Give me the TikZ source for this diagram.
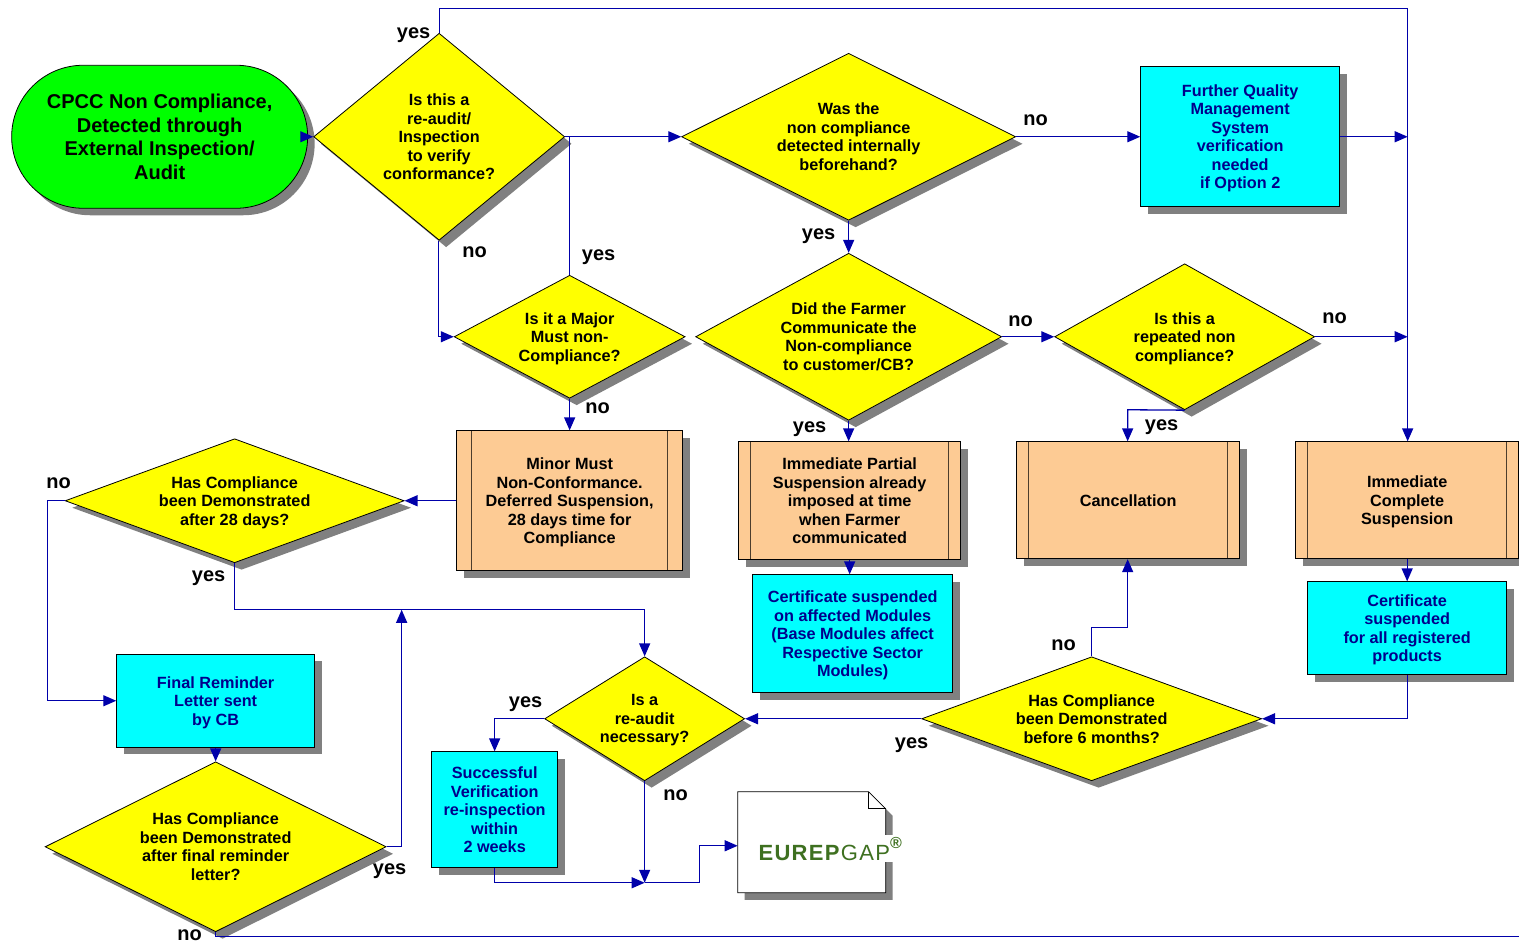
\documentclass[tikz,border=0pt]{standalone}
\usepackage{fontspec}
\setmainfont{Liberation Sans}
\newfontfamily\logofont[LetterSpace=6]{Liberation Sans}
\usetikzlibrary{shapes.geometric,shapes.misc,shadows,arrows.meta}
\definecolor{flowblue}{RGB}{0,0,170}
\definecolor{textnavy}{RGB}{0,0,139}
\definecolor{peach}{RGB}{253,203,148}
\definecolor{shadowgray}{RGB}{128,128,128}
\definecolor{logogreen}{RGB}{62,112,32}
\definecolor{startgreen}{RGB}{0,255,0}
\definecolor{questyellow}{RGB}{255,255,0}
\definecolor{infocyan}{RGB}{0,255,255}
\tikzset{
  grayshadow/.style={drop shadow={shadow xshift=3.5pt,shadow yshift=-3.5pt,fill=shadowgray,opacity=1}},
  nodetext/.style={align=center,inner sep=0pt,text depth=0pt,font=\bfseries\fontsize{8.12}{9.25}\selectfont},
  startbox/.style={rounded rectangle,draw=black,fill=startgreen,grayshadow,align=center,inner sep=0pt,
    font=\bfseries\fontsize{10}{11.7}\selectfont,minimum width=148pt,minimum height=71.5pt},
  quest/.code 2 args={\pgfmathsetmacro\questaspect{#1/#2}
    \tikzset{diamond,draw=black,fill=questyellow,grayshadow,nodetext,aspect=\questaspect,
      minimum width=0.5pt*#1,minimum height=0.5pt*#2}},
  infobox/.style 2 args={rectangle,draw=black,fill=infocyan,grayshadow,nodetext,text=textnavy,
    minimum width=0.5pt*#1,minimum height=0.5pt*#2},
  actionbox/.style n args={3}{rectangle,draw=black,fill=peach,grayshadow,nodetext,
    minimum width=0.5pt*#1,minimum height=0.5pt*#2,
    path picture={
      \draw[black!70!peach] ([xshift=0.5pt*#3]path picture bounding box.south west) -- ([xshift=0.5pt*#3]path picture bounding box.north west);
      \draw[black!70!peach] ([xshift=-0.5pt*#3]path picture bounding box.south east) -- ([xshift=-0.5pt*#3]path picture bounding box.north east);
    }},
  answer/.style={inner sep=0pt,font=\bfseries\fontsize{10}{12}\selectfont},
  flow/.style={draw=flowblue,line width=0.65pt,-{Triangle[length=6.5pt,width=5.5pt]}},
  plainflow/.style={draw=flowblue,line width=0.65pt},
}
\begin{document}
\begin{tikzpicture}[x=0.5pt,y=-0.5pt]
    \useasboundingbox (0.35,0.25) rectangle (1519.35,944.25);

    % Start
    \node[startbox] (start) at (160,137) {CPCC Non Compliance,\\Detected through\\External Inspection/\\Audit};

    % Questions
    \node[quest={251}{207}] (reaudit) at (439.5,137) {Is this a\\re-audit/\\Inspection\\to verify\\conformance?};
    \node[quest={334}{167}] (internal) at (849,137) {Was the\\non compliance\\detected internally\\beforehand?};
    \node[quest={231}{123}] (major) at (570,337) {Is it a Major\\Must non-\\Compliance?};
    \node[quest={306}{167}] (farmer) at (849,337) {Did the Farmer\\Communicate the\\Non-compliance\\to customer/CB?};
    \node[quest={260}{146}] (repeated) at (1185,337) {Is this a\\repeated non\\compliance?};
    \node[quest={339}{124}] (days) at (235,501) {Has Compliance\\been Demonstrated\\after 28 days?};
    \node[quest={341}{170}] (reminder) at (216,847) {Has Compliance\\been Demonstrated\\after final reminder\\letter?};
    \node[quest={200}{124}] (necessary) at (645,719) {Is a\\re-audit\\necessary?};
    \node[quest={340}{124}] (months) at (1092,719) {Has Compliance\\been Demonstrated\\before 6 months?};

    % Blue boxes
    \node[infobox={199}{140}] (quality) at (1240.5,137) {Further Quality\\Management\\System\\verification\\needed\\if Option 2};
    \node[infobox={200}{118}] (affected) at (853,634) {Certificate suspended\\on affected Modules\\(Base Modules affect\\Respective Sector\\Modules)};
    \node[infobox={199}{93}] (registered) at (1407.5,628.5) {Certificate\\suspended\\for all registered\\products};
    \node[infobox={198}{93}] (letter) at (216,701) {Final Reminder\\Letter sent\\by CB};
    \node[infobox={126}{116}] (success) at (495,810) {Successful\\Verification\\re-inspection\\within\\2 weeks};

    % Orange boxes
    \node[actionbox={226}{140}{15}] (minor) at (570,501) {Minor Must\\Non-Conformance.\\Deferred Suspension,\\28 days time for\\Compliance};
    \node[actionbox={222}{118}{12}] (partial) at (850,501) {Immediate Partial\\Suspension already\\imposed at time\\when Farmer\\communicated};
    \node[actionbox={223}{117}{12}] (cancel) at (1128.5,500.5) {Cancellation};
    \node[actionbox={223}{117}{12}] (complete) at (1407.5,500.5) {Immediate\\Complete\\Suspension};

    % Document
    \draw[fill=white,grayshadow] (738,792) -- (869,792) -- (886,809) -- (886,893) -- (738,893) -- cycle;
    \draw (869,792) -- (869,809) -- (886,809);
    \node[fill=white,inner sep=1pt,text=logogreen,font=\fontsize{11}{12}\logofont] (logo) at (831,849) {\textbf{EUREP}GAP\raisebox{1ex}{\fontsize{8}{8}\selectfont\textbf{®}}};
    \coordinate (docin) at (738,846);

    % Helper points
    \coordinate (topright) at (1408,9);
    \coordinate (qualitymeet) at (1408,137);
    \coordinate (repeatedmeet) at (1408,337);
    \coordinate (majormeet) at (570,137);
    \coordinate (reauditmeet) at (439,337);
    \coordinate (daysleft) at (48,501);
    \coordinate (daysline) at (235,610);
    \coordinate (auditline) at (645,610);
    \coordinate (reminderup) at (402,847);
    \coordinate (reminderend) at (402,610);
    \coordinate (bottomright) at (1519,937);
    \coordinate (bottomleft) at (216,937);
    \coordinate (monthsup) at (1092,628);
    \coordinate (cancelup) at (1128,628);
    \coordinate (registeredturn) at (1408,719);
    \coordinate (repeatedturn) at (1128,410);
    \coordinate (necessaryturn) at (495,719);
    \coordinate (endmeet) at (645,883);
    \coordinate (successturn) at (495,883);
    \coordinate (docturn) at (700,883);
    \coordinate (docup) at (700,846);

    % Connectors
    \draw[flow] (start.east) -- (reaudit.west);
    \draw[flow] (reaudit.north) -- (reaudit.north |- topright) -- (topright) -- (complete.north -| topright);
    \draw[flow] (reaudit.south -| reauditmeet) -- (reauditmeet) -- (major.west);
    \draw[plainflow] (reaudit.east) -- (majormeet);
    \draw[flow] (major.north) -- (majormeet) -- (internal.west);
    \draw[flow] (internal.east) -- (quality.west);
    \draw[flow] (quality.east) -- (qualitymeet);
    \draw[flow] (internal.south) -- (farmer.north);
    \draw[flow] (major.south) -- (minor.north);
    \draw[flow] (farmer.east) -- (repeated.west);
    \draw[flow] (repeated.east) -- (repeatedmeet);
    \draw[flow] (farmer.south) -- (partial.north -| farmer.south);
    \draw[flow] (repeated.south) -- (repeatedturn) -- (cancel.north -| repeatedturn);
    \draw[flow] (partial.south) -- (affected.north -| partial.south);
    \draw[flow] (complete.south -| registered.north) -- (registered.north);
    \draw[flow] (registered.south -| registeredturn) -- (registeredturn) -- (months.east);
    \draw[flow] (months.west) -- (necessary.east);
    \draw[flow] (months.north) -- (monthsup) -- (cancelup) -- (cancel.south -| cancelup);
    \draw[flow] (minor.west) -- (days.east);
    \draw[flow] (days.west) -- (daysleft) -- (daysleft |- letter.west) -- (letter.west);
    \draw[flow] (days.south) -- (daysline) -- (auditline) -- (necessary.north);
    \draw[flow] (letter.south) -- (reminder.north);
    \draw[flow] (reminder.east) -- (reminderup) -- (reminderend);
    \draw[plainflow] (reminder.south) -- (bottomleft) -- (bottomright);
    \draw[flow] (necessary.west) -- (necessaryturn) -- (success.north);
    \draw[flow] (necessary.south) -- (endmeet);
    \draw[flow] (success.south) -- (successturn) -- (endmeet);
    \draw[flow] (endmeet) -- (docturn) -- (docup) -- (docin);

    % Answers
    \node[answer] (yesa) at (414,35) {yes};
    \node[answer] (noa) at (475,252) {no};
    \node[answer] (yesb) at (599,257) {yes};
    \node[answer] (nob) at (598,408) {no};
    \node[answer] (yesc) at (819,236) {yes};
    \node[answer] (noc) at (1036,120) {no};
    \node[answer] (yesd) at (810,429) {yes};
    \node[answer] (nod) at (1021,321) {no};
    \node[answer] (noe) at (1335,318) {no};
    \node[answer] (yese) at (1162,427) {yes};
    \node[answer] (nof) at (59,483) {no};
    \node[answer] (yesf) at (209,578) {yes};
    \node[answer] (yesg) at (526,704) {yes};
    \node[answer] (nog) at (676,795) {no};
    \node[answer] (noh) at (1064,645) {no};
    \node[answer] (yesh) at (912,745) {yes};
    \node[answer] (yesi) at (390,871) {yes};
    \node[answer] (noi) at (190,935) {no};
\end{tikzpicture}
\end{document}
